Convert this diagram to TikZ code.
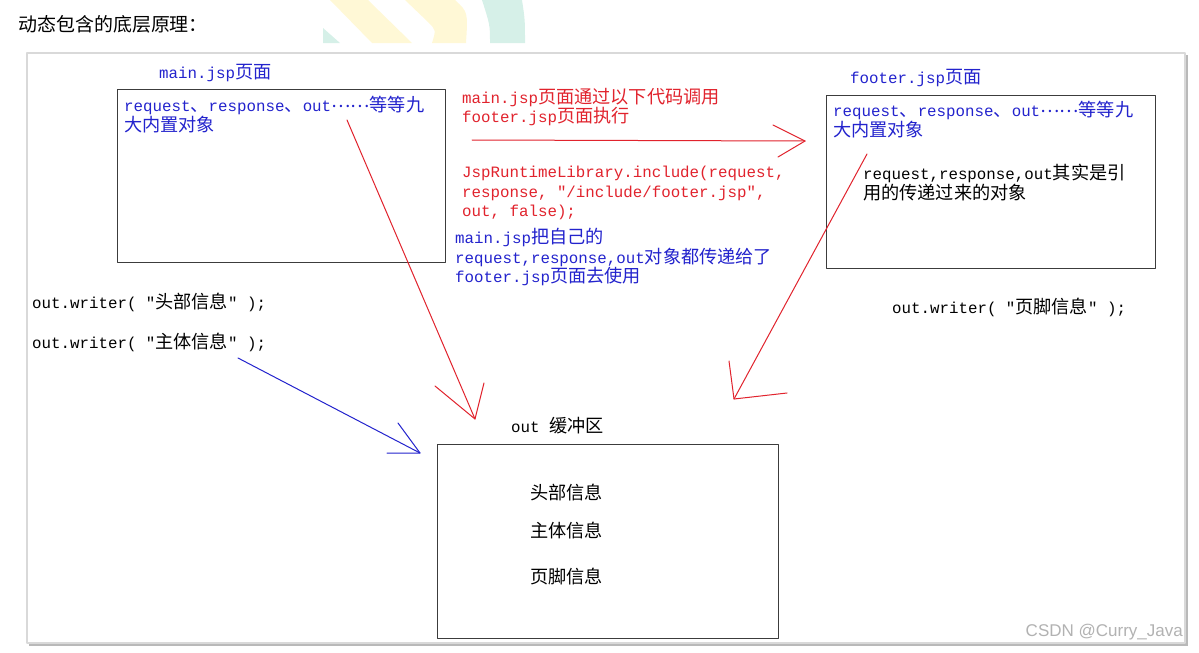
\documentclass[tikz,border=0pt]{standalone}
\usepackage{fontspec}
\setmonofont{Liberation Mono}
\newfontfamily\zh{Noto Sans CJK SC}[Scale=1.15]
\newfontfamily\wmfont{Liberation Sans}
\definecolor{jspblue}{RGB}{35,35,205}
\definecolor{jspred}{RGB}{225,35,45}
\definecolor{boxgray}{RGB}{60,60,60}
\definecolor{wmyellow}{RGB}{255,248,214}
\definecolor{wmteal}{RGB}{214,240,232}
\newcommand{\middots}{{\zh\raisebox{0.45ex}{……}}}
\tikzset{
  txt/.style={inner sep=0pt, align=left, font={\fontsize{15.8}{19.5}\selectfont\ttfamily}},
  jspbox/.style={draw=boxgray, line width=1.3pt, inner sep=0pt, anchor=north west},
  redline/.style={draw=jspred, line width=1pt},
  blueline/.style={draw=jspblue, line width=1pt},
}

\begin{document}
\begin{tikzpicture}[x=1pt, y=-1pt, line join=round, line cap=round]
    \useasboundingbox (0,0) rectangle (1199,653);

    % 水印背景
    \fill[wmteal] (323,28) -- (340,43) -- (323,43) -- cycle;
    \fill[wmyellow] (330,0) -- (368,0) -- (412,43) -- (372,43) -- cycle;
    \fill[wmyellow] (405,0) -- (455,0) .. controls (468,12) .. (466,43) -- (432,43) .. controls (436,30) .. (428,22) -- cycle;
    \fill[wmteal] (482,0) -- (522,0) .. controls (525,20) .. (525,43) -- (490,43) .. controls (490,25) .. (482,0) -- cycle;

    % 标题
    \node[txt, anchor=west] (title) at (18,24) {{\zh\fontsize{16.5}{19}\selectfont 动态包含的底层原理：}};

    % 外框 (带阴影)
    \fill[gray!55] (29,55) rectangle (1188,646);
    \filldraw[fill=white, draw=gray!30, line width=1.5pt] (27,53) rectangle (1185,643);

    % 1. main.jsp 页面
    \node[txt, jspblue, anchor=west] (maintitle) at (159,73) {main.jsp{\zh 页面}};
    \node[jspbox, minimum width=328, minimum height=173] (mainbox) at (117,89) {};
    \node[txt, jspblue, anchor=north west] (mainobj) at ([shift={(7,7)}]mainbox.north west)
        {request{\zh 、}response{\zh 、}out\middots{\zh 等等九}\\{\zh 大内置对象}};

    % 2. footer.jsp 页面
    \node[txt, jspblue, anchor=west] (footertitle) at (850,78) {footer.jsp{\zh 页面}};
    \node[jspbox, minimum width=329, minimum height=173] (footerbox) at (826,95) {};
    \node[txt, jspblue, anchor=north west] (footerobj) at ([shift={(7,6)}]footerbox.north west)
        {request{\zh 、}response{\zh 、}out\middots{\zh 等等九}\\{\zh 大内置对象}};
    \node[txt, anchor=north west] (footerref) at (863,164)
        {request,response,out{\zh 其实是引}\\{\zh 用的传递过来的对象}};
    \node[txt, anchor=west] (footerwrite) at (892,307) {out.writer( "{\zh 页脚信息}" );};

    % 3. 中间的调用说明
    \node[txt, jspred, anchor=north west] (callnote) at (462,88)
        {main.jsp{\zh 页面通过以下代码调用}\\footer.jsp{\zh 页面执行}};
    \node[txt, jspred, anchor=north west] (callcode) at (462,166)
        {JspRuntimeLibrary.include(request,\\response, "/include/footer.jsp",\\out, false);};
    \node[txt, jspblue, anchor=north west] (passnote) at (455,228)
        {main.jsp{\zh 把自己的}\\request,response,out{\zh 对象都传递给了}\\footer.jsp{\zh 页面去使用}};

    % 4. 左侧的输出语句
    \node[txt, anchor=west] (headwrite) at (32,302) {out.writer( "{\zh 头部信息}" );};
    \node[txt, anchor=west] (bodywrite) at (32,342) {out.writer( "{\zh 主体信息}" );};

    % 5. out 缓冲区
    \node[txt, anchor=west] (buftitle) at (511,426) {out {\zh 缓冲区}};
    \node[jspbox, minimum width=341, minimum height=194] (bufbox) at (437,444) {};
    \node[txt, anchor=west] (bufhead) at (530,493) {{\zh 头部信息}};
    \node[txt, anchor=west] (bufbody) at (530,531) {{\zh 主体信息}};
    \node[txt, anchor=west] (buffoot) at (530,577) {{\zh 页脚信息}};

    % 箭头 (手绘的开口箭头)
    \coordinate (callS) at (472,140);
    \coordinate (callT) at (805,141);
    \draw[redline] (callS) -- (callT);
    \draw[redline] ([shift={(-32,-16)}]callT) -- (callT) -- ([shift={(-27,16)}]callT);

    \coordinate (passS) at (347,120);
    \coordinate (passT) at (475,419);
    \draw[redline] (passS) -- (passT);
    \draw[redline] ([shift={(-40,-33)}]passT) -- (passT) -- ([shift={(9,-36)}]passT);

    \coordinate (refS) at (867,154);
    \coordinate (refT) at (734,399);
    \draw[redline] (refS) -- (refT);
    \draw[redline] ([shift={(-5,-38)}]refT) -- (refT) -- ([shift={(53,-6)}]refT);

    \coordinate (writeS) at (238,358);
    \coordinate (writeT) at (420,453);
    \draw[blueline] (writeS) -- (writeT);
    \draw[blueline] ([shift={(-22,-30)}]writeT) -- (writeT) -- ([shift={(-33,0)}]writeT);

    % 水印文字
    \node[inner sep=0pt, anchor=east, text=gray!60, font={\wmfont\fontsize{17}{17}\selectfont}] (csdn) at (1183,632) {CSDN @Curry\_Java};
\end{tikzpicture}
\end{document}
